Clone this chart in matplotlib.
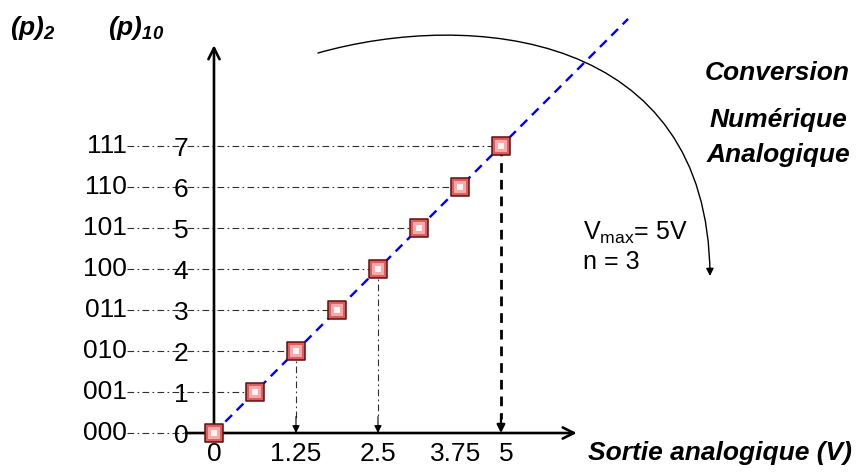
import matplotlib.pyplot as plt
from matplotlib.path import Path
from matplotlib.patches import FancyArrowPatch

plt.rcParams['font.family'] = ['Liberation Sans', 'DejaVu Sans']
plt.rcParams['mathtext.fontset'] = 'custom'
plt.rcParams['mathtext.rm'] = 'Liberation Sans:bold:italic'
plt.rcParams['mathtext.it'] = 'Liberation Sans:bold:italic'
plt.rcParams['mathtext.sf'] = 'Liberation Sans'

# DAC, 3 bits, Vmax = 5 V
n_bits = 3
v_max = 5.0
codes = [0, 1, 2, 3, 4, 5, 6, 7]
binary_labels = ['000', '001', '010', '011', '100', '101', '110', '111']
decimal_labels = ['0', '1', '2', '3', '4', '5', '6', '7']
quantum = v_max / 2 ** n_bits
volts = [c * quantum for c in codes]
xtick_labels = ['0', '1.25', '2.5', '3.75', '5']
xtick_values = [0, 1.25, 2.5, 3.68, 4.45]
drop_codes = [2, 4, 7]

W, H = 856, 475
fig = plt.figure(figsize=(W / 100, H / 100), dpi=100)
ax = fig.add_axes([0, 0, 1, 1])
ax.set_xlim(-3.262, 9.787)
ax.set_ylim(-1.024, 10.561)
ax.axis('off')


def fx(px):
    return px / W


def fy(py):
    return 1 - py / H


# axes with arrows
ax.annotate('', xy=(5.53, 0), xytext=(-0.43, 0),
            arrowprops=dict(arrowstyle='->', lw=1.9, color='k',
                            shrinkA=0, shrinkB=0, mutation_scale=20))
ax.annotate('', xy=(0, 9.46), xytext=(0, 0),
            arrowprops=dict(arrowstyle='->', lw=1.9, color='k',
                            shrinkA=0, shrinkB=0, mutation_scale=20))

# ideal characteristic
ax.plot([0, 10.1 * quantum], [0, 10.1], color='#0000ff', lw=1.7,
        dashes=(4, 2.8), zorder=3)

# horizontal guides
for c, v in zip(codes, volts):
    ax.plot([-1.33, v], [c, c], color='#303030', lw=0.8,
            dashes=(6, 3, 1.5, 3), zorder=2)

# vertical drops
for c in drop_codes:
    v = volts[c]
    if c == codes[-1]:
        ax.plot([v, v], [c, 0.35], color='k', lw=2.0, dashes=(3.5, 2.5), zorder=2)
        ax.annotate('', xy=(v, 0), xytext=(v, 0.45),
                    arrowprops=dict(arrowstyle='-|>', lw=1.6, color='k',
                                    shrinkA=0, shrinkB=0, mutation_scale=12))
    else:
        ax.plot([v, v], [c, 0.35], color='#303030', lw=0.8,
                dashes=(6, 3, 1.5, 3), zorder=2)
        ax.annotate('', xy=(v, 0), xytext=(v, 0.4),
                    arrowprops=dict(arrowstyle='-|>', lw=0.8, color='k',
                                    shrinkA=0, shrinkB=0, mutation_scale=11))

# markers
ax.scatter(volts, codes, marker='s', s=12.3 ** 2, facecolor='#e35c5c',
           edgecolor='#5a1010', lw=1.1, zorder=5)
ax.scatter(volts, codes, marker='s', s=8.5 ** 2, facecolor='#f4aaaa',
           edgecolor='none', zorder=6)
ax.scatter(volts, codes, marker='s', s=5 ** 2, facecolor='#fff4f4',
           edgecolor='none', zorder=7)

# y labels
for c, b, d in zip(codes, binary_labels, decimal_labels):
    ax.text(-1.33, c, b, ha='right', va='center', fontsize=19, zorder=4)
    ax.text(-0.50, c - 0.08, d, ha='center', va='center', fontsize=19, zorder=4)

# x labels
for v, lab in zip(xtick_values, xtick_labels):
    ax.text(v, -0.5, lab, ha='center', va='center', fontsize=19)

bi = dict(fontweight='bold', fontstyle='italic', fontsize=19)
fig.text(fx(588), fy(453), 'Sortie analogique (V)', ha='left', va='center', **bi)
fig.text(fx(10), fy(28), '(p)$_2$', ha='left', va='center', **bi)
fig.text(fx(108), fy(28), '(p)$_{10}$', ha='left', va='center', **bi)

fig.text(fx(777), fy(73), 'Conversion', ha='center', va='center', **bi)
fig.text(fx(778), fy(120), 'Numérique', ha='center', va='center', **bi)
fig.text(fx(778), fy(155), 'Analogique', ha='center', va='center', **bi)

fig.text(fx(583), fy(233), r'V$_{\mathsf{max}}$= 5V', ha='left', va='center',
         fontsize=18)
fig.text(fx(583), fy(262), 'n = 3', ha='left', va='center', fontsize=18)

# curved arrow
curve = Path([(1.585, 9.268), (3.902, 10.317), (7.530, 9.820), (7.561, 3.829)],
             [Path.MOVETO, Path.CURVE4, Path.CURVE4, Path.CURVE4])
ax.add_patch(FancyArrowPatch(path=curve, arrowstyle='-|>', lw=1.0, color='k',
                             mutation_scale=11))

fig.savefig('out.png', dpi=100)
